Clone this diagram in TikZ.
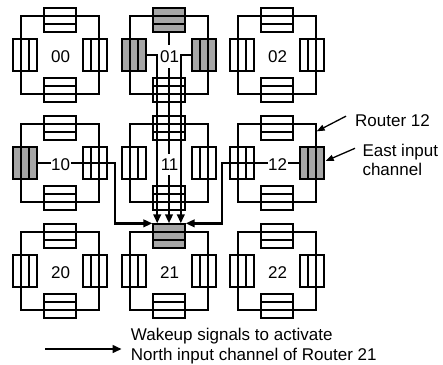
\documentclass[tikz,border=0pt]{standalone}
\usepackage{fontspec}
\setmainfont{Liberation Sans}
\usetikzlibrary{arrows.meta}
\begin{document}
\begin{tikzpicture}[x=1pt,y=-1pt,
  sq/.style={draw, line width=1.3pt, minimum size=78pt, inner sep=0pt},
  hbuf/.style={draw, line width=1.3pt, fill=white, minimum width=32pt, minimum height=24pt, inner sep=0pt,
    path picture={\draw[line width=1.3pt]
      ([yshift=-8pt]path picture bounding box.north west) -- ([yshift=-8pt]path picture bounding box.north east)
      ([yshift=8pt]path picture bounding box.south west) -- ([yshift=8pt]path picture bounding box.south east);}},
  vbuf/.style={draw, line width=1.3pt, fill=white, minimum width=24pt, minimum height=32pt, inner sep=0pt,
    path picture={\draw[line width=1.3pt]
      ([xshift=8pt]path picture bounding box.north west) -- ([xshift=8pt]path picture bounding box.south west)
      ([xshift=-8pt]path picture bounding box.north east) -- ([xshift=-8pt]path picture bounding box.south east);}},
  on/.style={fill=black!35},
  st01n/.style={on}, st01w/.style={on}, st01e/.style={on},
  st10w/.style={on}, st12e/.style={on}, st21n/.style={on},
  lab/.style={fill=white, inner xsep=0.5pt, inner ysep=5pt, font=\fontsize{17}{20}\selectfont},
  sig/.style={line width=2.3pt, -{Triangle[length=9pt,width=7.5pt]}},
  annot/.style={line width=1.3pt, -{Triangle[length=8pt,width=6pt]}},
  txt/.style={inner sep=0pt, align=left}
]
\useasboundingbox (0,0) rectangle (443,364);
% routers
\foreach \j/\cy in {0/55,1/163,2/271}{
  \foreach \i/\cx in {0/60,1/169,2/277}{
    \node[sq] (r\j\i) at (\cx,\cy) {};
    \node[hbuf, st\j\i n/.try] (r\j\i n) at (\cx,\cy-35) {};
    \node[hbuf, st\j\i s/.try] (r\j\i s) at (\cx,\cy+35) {};
    \node[vbuf, st\j\i w/.try] (r\j\i w) at (\cx-35,\cy) {};
    \node[vbuf, st\j\i e/.try] (r\j\i e) at (\cx+35,\cy) {};
  }
}
% wakeup signals
\coordinate (k10) at ([xshift=7.5pt]r10e.east);
\coordinate (k12) at ([xshift=-7.5pt]r12w.west);
\draw[sig] (r01n.south) -- (r21n.north);
\draw[sig] (r01w.east) -| ([xshift=-11.8pt]r21n.north);
\draw[sig] (r01e.west) -| ([xshift=11.8pt]r21n.north);
\draw[sig] (r10w.east) -- (k10) |- (r21n.north west);
\draw[sig] (r12e.west) -- (k12) |- (r21n.north east);
% router labels
\foreach \j/\cy in {0/56.5,1/164.5,2/272.5}{
  \foreach \i/\cx in {0/60.6,1/169.6,2/277.6}{
    \node[lab] (l\j\i) at (\cx,\cy) {\j\i};
  }
}
% annotations
\node[txt, anchor=base west, font=\fontsize{17}{20}\selectfont] (ann1) at (355,126) {Router 12};
\node[txt, anchor=north west, font=\fontsize{17}{18.3}\selectfont] (ann2) at (362.3,144.4) {East input\\channel};
\draw[annot] ([xshift=-9pt,yshift=4pt]ann1.west) -- ([yshift=-8pt]r12.north east);
\draw[annot] ([xshift=-7.3pt,yshift=-3.9pt]ann2.north west) -- ([xshift=1pt,yshift=2pt]r12e.east);
% legend
\coordinate (lgA) at (45,349);
\coordinate (lgB) at (121.7,349);
\draw[sig] (lgA) -- (lgB);
\node[txt, anchor=west, font=\fontsize{17}{20.6}\selectfont] (leg) at (130.7,346) {Wakeup signals to activate\\North input channel of Router 21};
\end{tikzpicture}
\end{document}
